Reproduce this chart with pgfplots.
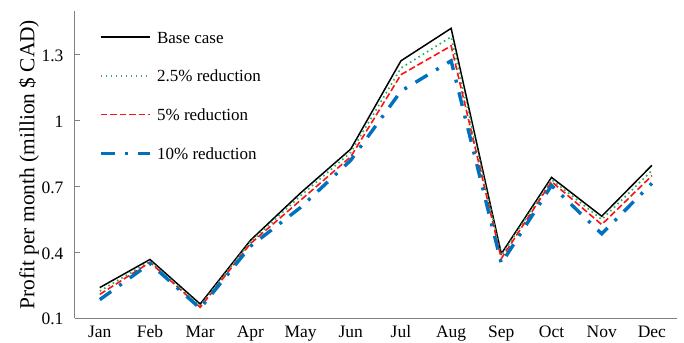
\documentclass[border=0pt]{standalone}
\usepackage{fontspec}
\setmainfont{Liberation Serif}
\usepackage{pgfplots}
\pgfplotsset{compat=1.18}
\definecolor{cgreen}{RGB}{40,175,95}
\definecolor{cred}{RGB}{250,20,20}
\definecolor{cblue}{RGB}{0,114,189}
\begin{document}
\begin{tikzpicture}
\begin{axis}[
  name=ax,
  scale only axis,
  width=602.3bp, height=307.3bp,
  xmin=-0.5, xmax=11.5, ymin=0.1, ymax=1.5,
  axis x line*=bottom, axis y line*=left,
  axis line style={draw=gray, line width=1.1bp},
  xtick={0,1,2,3,4,5,6,7,8,9,10,11},
  xticklabels={Jan,Feb,Mar,Apr,May,Jun,Jul,Aug,Sep,Oct,Nov,Dec},
  xtick style={draw=none},
  ytick={0.1,0.4,0.7,1,1.3},
  yticklabels={0.1,0.4,0.7,1,1.3},
  ytick style={draw=gray, line width=1bp},
  tick align=inside, major tick length=5bp,
  /pgf/number format/assume math mode=true,
  ticklabel style={font=\fontsize{17.5bp}{20bp}\selectfont},
  yticklabel style={anchor=east, inner sep=0pt, xshift=-11bp, yshift=-1bp},
  xticklabel style={yshift=-3.4bp, text height=12.5bp, text depth=0bp},
  ylabel={Profit per month (million \$ CAD)},
  ylabel style={at={(axis description cs:-0.059,0.5)}, anchor=south, inner sep=0pt, font=\fontsize{21.4bp}{24bp}\selectfont},
  legend cell align=left,
  legend image code/.code={\draw[#1] (0bp,0bp) -- (49bp,0bp);},
  legend style={draw=none, fill=none, inner sep=0pt,
    at={(axis description cs:0,1)}, anchor=north west, xshift=24.3bp, yshift=-20bp,
    font=\fontsize{17bp}{19bp}\selectfont,
    row sep=26.7bp, column sep=5.5bp,
    nodes={inner sep=0pt, text height=12bp, text depth=0bp}},
]
\addplot[black, line width=1.5bp] coordinates {
(0,0.240) (1,0.368) (2,0.165) (3,0.455) (4,0.671) (5,0.871) (6,1.273) (7,1.421) (8,0.394) (9,0.742) (10,0.565) (11,0.797)};
\addlegendentry{Base case}
\addplot[cgreen, line width=1.7bp, dash pattern=on 1.6bp off 3.4bp] coordinates {
(0,0.224) (1,0.360) (2,0.157) (3,0.448) (4,0.658) (5,0.856) (6,1.240) (7,1.382) (8,0.386) (9,0.732) (10,0.550) (11,0.773)};
\addlegendentry{2.5\% reduction}
\addplot[cred, line width=1.6bp, dash pattern=on 6.5bp off 3bp] coordinates {
(0,0.209) (1,0.355) (2,0.150) (3,0.440) (4,0.638) (5,0.836) (6,1.210) (7,1.341) (8,0.372) (9,0.723) (10,0.527) (11,0.750)};
\addlegendentry{5\% reduction}
\addplot[cblue, line width=3.4bp, dash pattern=on 14bp off 10bp on 3bp off 10bp] coordinates {
(0,0.185) (1,0.350) (2,0.145) (3,0.428) (4,0.605) (5,0.820) (6,1.135) (7,1.273) (8,0.350) (9,0.705) (10,0.485) (11,0.715)};
\addlegendentry{10\% reduction}
\end{axis}
\pgfresetboundingbox
\path (ax.south west) ++(-74.7bp,-24.7bp) coordinate (bl);
\path (ax.north east) ++(7bp,11bp) coordinate (tr);
\path[use as bounding box] (bl) rectangle (tr);
\end{tikzpicture}
\end{document}
